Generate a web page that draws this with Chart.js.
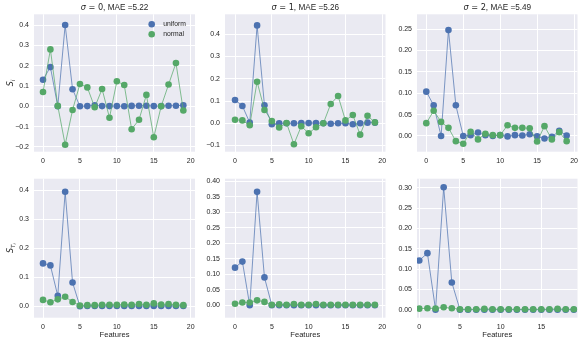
<!DOCTYPE html>
<html><head><meta charset="utf-8">
<script src="https://cdn.jsdelivr.net/npm/chart.js@4/dist/chart.umd.min.js"></script>
<style>
html,body{margin:0;padding:0;background:#fff;}
#wrap{position:relative;width:583px;height:344px;overflow:hidden;}
#wrap canvas{position:absolute;left:0;top:0;}
</style></head><body>
<div id="wrap">
<canvas id="c0" width="583" height="344"></canvas>
<canvas id="c1" width="583" height="344"></canvas>
<canvas id="c2" width="583" height="344"></canvas>
<canvas id="c3" width="583" height="344"></canvas>
<canvas id="c4" width="583" height="344"></canvas>
<canvas id="c5" width="583" height="344"></canvas>
</div>
<script>
// ---------- data ----------
const features = [0,1,2,3,4,5,6,7,8,9,10,11,12,13,14,15,16,17,18,19];
const sigmas = ["0","1","2"];
const maeValues = ["5.22","5.26","5.49"];
const seriesNames = ["uniform","normal"];
const xLabelText = "Features";

// first-order indices S_i
const s1UniformSigma0 = [0.131,0.193,0.0,0.400,0.084,0.0,0.001,0.005,0.001,0.001,0.001,0.0,0.002,0.003,0.003,0.001,0.001,0.003,0.003,0.005];
const s1NormalSigma0  = [0.070,0.280,0.002,-0.189,-0.018,0.110,0.093,-0.005,0.085,-0.056,0.123,0.105,-0.113,-0.066,0.056,-0.152,0.0,0.107,0.213,-0.021];
const s1UniformSigma1 = [0.105,0.078,0.003,0.440,0.081,-0.004,0.0,0.0,0.0,0.001,0.001,0.001,0.0,-0.002,0.0,0.0,-0.004,0.0,0.003,0.003];
const s1NormalSigma1  = [0.016,0.013,-0.009,0.187,0.060,0.010,-0.019,0.001,-0.094,-0.013,-0.045,-0.018,0.0,0.087,0.123,0.013,0.037,-0.051,0.034,0.004];
const s1UniformSigma2 = [0.1036,0.0717,0.0,0.2475,0.0717,0.0,0.002,0.008,0.002,0.0,0.002,-0.001,0.002,0.001,0.004,-0.001,-0.006,-0.002,0.012,0.001];
const s1NormalSigma2  = [0.030,0.059,0.033,0.019,-0.012,-0.018,0.010,-0.008,0.005,0.002,0.002,0.025,0.019,0.019,0.018,-0.013,0.023,-0.008,0.009,-0.012];

// total-order indices S_Ti
const stUniformSigma0 = [0.148,0.141,0.036,0.395,0.082,0.0,0.001,0.001,0.001,0.001,0.001,0.001,0.001,0.001,0.001,0.001,0.001,0.001,0.001,0.001];
const stNormalSigma0  = [0.022,0.014,0.024,0.033,0.015,0.003,0.004,0.004,0.005,0.005,0.005,0.006,0.005,0.008,0.005,0.010,0.006,0.008,0.005,0.004];
const stUniformSigma1 = [0.1215,0.141,0.0,0.366,0.090,0.0,0.0,0.0,0.0,0.0,0.0,0.0,0.0,0.0,0.0,0.0,0.0,0.0,0.0,0.0];
const stNormalSigma1  = [0.005,0.009,0.009,0.016,0.011,0.002,0.003,0.002,0.004,0.002,0.002,0.004,0.002,0.002,0.002,0.002,0.002,0.002,0.002,0.002];
const stUniformSigma2 = [0.121,0.139,0.0,0.301,0.067,0.0,0.0,0.0,0.0,0.0,0.0,0.0,0.0,0.0,0.0,0.0,0.0,0.0,0.0,0.0];
const stNormalSigma2  = [0.0025,0.0035,0.003,0.006,0.0035,0.001,0.001,0.001,0.002,0.001,0.001,0.001,0.001,0.001,0.001,0.001,0.001,0.002,0.001,0.001];

// tick values and labels
const xTicks20 = [0,5,10,15,20];
const xTickLabels20 = ["0","5","10","15","20"];
const xTicks15 = [0,5,10,15];
const xTickLabels15 = ["0","5","10","15"];
const yTicksA = [-0.2,-0.1,0,0.1,0.2,0.3,0.4];
const yTickLabelsA = ["\u22120.2","\u22120.1","0.0","0.1","0.2","0.3","0.4"];
const yTicksB = [-0.1,0,0.1,0.2,0.3,0.4];
const yTickLabelsB = ["\u22120.1","0.0","0.1","0.2","0.3","0.4"];
const yTicksC = [0,0.05,0.1,0.15,0.2,0.25];
const yTickLabelsC = ["0.00","0.05","0.10","0.15","0.20","0.25"];
const yTicksD = [0,0.1,0.2,0.3,0.4];
const yTickLabelsD = ["0.0","0.1","0.2","0.3","0.4"];
const yTicksE = [0,0.05,0.1,0.15,0.2,0.25,0.3,0.35,0.4];
const yTickLabelsE = ["0.00","0.05","0.10","0.15","0.20","0.25","0.30","0.35","0.40"];
const yTicksF = [0,0.05,0.1,0.15,0.2,0.25,0.3];
const yTickLabelsF = ["0.00","0.05","0.10","0.15","0.20","0.25","0.30"];

// ---------- styling / layout ----------
const BLUE = '#4C72B0', GREEN = '#55A868';
const BLUE_LINE = 'rgba(76,114,176,0.8)', GREEN_LINE = 'rgba(85,168,104,0.8)';
const BG = '#EAEAF2', TXT = '#262626';
const SANS = '"Liberation Sans", Arial, sans-serif';
const MATH = '"DejaVu Sans", sans-serif';
const YAXW = 30, XAXH = 20;

const panels = [
  {u:s1UniformSigma0,n:s1NormalSigma0,s:0,xt:xTicks20,xl:xTickLabels20,yt:yTicksA,yl:yTickLabelsA,box:[34,14.3,195,151.7],xr:[-1.22,20.58],yr:[-0.2234,0.4527],ylab:'S1',legend:true,bottom:false},
  {u:s1UniformSigma1,n:s1NormalSigma1,s:1,xt:xTicks20,xl:xTickLabels20,yt:yTicksB,yl:yTickLabelsB,box:[225,14.3,385.5,151.7],xr:[-1.36,20.44],yr:[-0.1276,0.4899],bottom:false},
  {u:s1UniformSigma2,n:s1NormalSigma2,s:2,xt:xTicks20,xl:xTickLabels20,yt:yTicksC,yl:yTickLabelsC,box:[417,14.3,577.5,151.7],xr:[-1.26,20.47],yr:[-0.0367,0.2844],bottom:false},
  {u:stUniformSigma0,n:stNormalSigma0,s:null,xt:xTicks20,xl:xTickLabels20,yt:yTicksD,yl:yTickLabelsD,box:[34,178.7,195,317.7],xr:[-1.22,20.58],yr:[-0.0393,0.44],ylab:'ST',bottom:true},
  {u:stUniformSigma1,n:stNormalSigma1,s:null,xt:xTicks20,xl:xTickLabels20,yt:yTicksE,yl:yTickLabelsE,box:[225,178.7,385.5,317.7],xr:[-1.36,20.44],yr:[-0.04,0.4084],bottom:true},
  {u:stUniformSigma2,n:stNormalSigma2,s:null,xt:xTicks15,xl:xTickLabels15,yt:yTicksF,yl:yTickLabelsF,box:[417,178.7,577.5,317.7],xr:[-0.28,19.45],yr:[-0.0197,0.3221],bottom:true}
];

function drawRuns(ctx, runs, cx, baseY){
  let w = 0;
  runs.forEach(r => { ctx.font = r.font; r.w = ctx.measureText(r.t).width; w += r.w; });
  let x = cx - w/2;
  ctx.textAlign = 'left'; ctx.textBaseline = 'alphabetic';
  runs.forEach(r => { ctx.font = r.font; ctx.fillText(r.t, x, baseY + (r.dy||0)); x += r.w; });
}

const bgPlugin = {
  id:'bg',
  beforeDraw(chart){
    const a = chart.chartArea, c = chart.ctx;
    c.save(); c.fillStyle = BG; c.fillRect(a.left, a.top, a.right-a.left, a.bottom-a.top); c.restore();
  }
};

function makeTextPlugin(p){
  return {
    id:'txt',
    afterDraw(chart){
      const c = chart.ctx, a = chart.chartArea;
      const cx = (a.left + a.right)/2, cy = (a.top + a.bottom)/2;
      c.save(); c.fillStyle = TXT;
      if (p.s !== null){
        drawRuns(c, [
          {t:'\u03C3', font:'italic 8.2px '+MATH},
          {t:' = '+sigmas[p.s], font:'8.2px '+MATH},
          {t:', MAE ='+maeValues[p.s], font:'8.2px '+SANS}
        ], cx, 10.3);
      }
      if (p.bottom){
        c.font = '7.6px '+SANS; c.textAlign='center'; c.textBaseline='middle';
        c.fillText(xLabelText, cx, 335.3);
      }
      if (p.ylab){
        c.save(); c.translate(9.8, cy); c.rotate(-Math.PI/2);
        if (p.ylab === 'S1'){
          drawRuns(c, [{t:'S', font:'italic 8px '+MATH},{t:'i', font:'italic 5.6px '+MATH, dy:1.8}], 0, 2.9);
        } else {
          drawRuns(c, [{t:'S', font:'italic 8px '+MATH},{t:'T', font:'italic 5.6px '+MATH, dy:1.8},{t:'i', font:'italic 4px '+MATH, dy:3.2}], 0, 2.9);
        }
        c.restore();
      }
      if (p.legend){
        const items = [{c:BLUE, t:seriesNames[0], y:24.3},{c:GREEN, t:seriesNames[1], y:34.3}];
        items.forEach(it => {
          c.fillStyle = it.c; c.beginPath(); c.arc(151.7, it.y, 3.3, 0, Math.PI*2); c.fill();
          c.fillStyle = TXT; c.font = '6.8px '+SANS; c.textAlign='left'; c.textBaseline='middle';
          c.fillText(it.t, 163.3, it.y + 0.3);
        });
      }
      c.restore();
    }
  };
}

panels.forEach((p, k) => {
  const ctx = document.getElementById('c'+k).getContext('2d');
  new Chart(ctx, {
    type:'scatter',
    data:{datasets:[
      {label:seriesNames[1], data:features.map((f,i)=>({x:f,y:p.n[i]})), showLine:true,
       borderColor:GREEN_LINE, backgroundColor:GREEN, pointBackgroundColor:GREEN, pointRadius:3.3, pointHoverRadius:3.3,
       pointBorderWidth:0, borderWidth:0.9, order:0},
      {label:seriesNames[0], data:features.map((f,i)=>({x:f,y:p.u[i]})), showLine:true,
       borderColor:BLUE_LINE, backgroundColor:BLUE, pointBackgroundColor:BLUE, pointRadius:3.3, pointHoverRadius:3.3,
       pointBorderWidth:0, borderWidth:0.9, order:1}
    ]},
    options:{
      responsive:false, animation:false, devicePixelRatio:1, events:[],
      layout:{padding:{left:p.box[0]-YAXW, top:p.box[1], right:583-p.box[2], bottom:344-p.box[3]-XAXH}},
      plugins:{legend:{display:false}, tooltip:{enabled:false}, title:{display:false}},
      scales:{
        x:{type:'linear', min:p.xr[0], max:p.xr[1],
           afterBuildTicks:s=>{ s.ticks = p.xt.map(v=>({value:v})); },
           afterFit:s=>{ s.height = XAXH; s.paddingLeft=0; s.paddingRight=0; s.paddingTop=0; s.paddingBottom=0; },
           ticks:{autoSkip:false, maxRotation:0, minRotation:0, padding:5, color:TXT, font:{family:SANS, size:7},
                  callback:(v,i)=>p.xl[i]},
           grid:{color:'#ffffff', lineWidth:1, drawTicks:false}, border:{display:false}},
        y:{type:'linear', min:p.yr[0], max:p.yr[1],
           afterBuildTicks:s=>{ s.ticks = p.yt.map(v=>({value:v})); },
           afterFit:s=>{ s.width = YAXW; s.paddingLeft=0; s.paddingRight=0; s.paddingTop=0; s.paddingBottom=0; },
           ticks:{autoSkip:false, padding:5, color:TXT, font:{family:SANS, size:7},
                  callback:(v,i)=>p.yl[i]},
           grid:{color:'#ffffff', lineWidth:1, drawTicks:false}, border:{display:false}}
      }
    },
    plugins:[bgPlugin, makeTextPlugin(p)]
  });
});
</script>
</body></html>
